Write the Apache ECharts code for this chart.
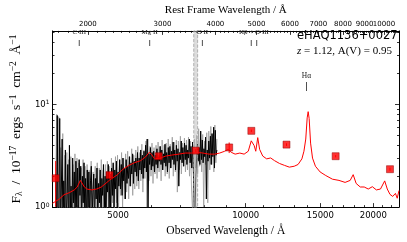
<!DOCTYPE html>
<html><head><meta charset="utf-8">
<script src="https://cdn.jsdelivr.net/npm/echarts@6/dist/echarts.min.js"></script>
<style>html,body{margin:0;padding:0;background:#fff}#c{width:407px;height:242px}</style>
</head><body><div id="c"></div>
<script>
// ---------------- data ----------------
const objectName = 'eHAQ1136+0027';
const redshift = 1.12;
const extinctionAV = 0.95;

// observed spectrum, log-spaced grid between these wavelengths
const specStart = 3560, specEnd = 8550;
// smoothed spectrum (black)
const specFlux = [
  2.1, 0.6, 7.8, 0.5, 1.0, 7.3, 0.6, 1.5, 4.6, 0.5,
  1.8, 0.7, 3.6, 0.8, 1.2, 2.6, 0.5, 4.0, 0.9, 1.6,
  0.6, 3.0, 1.1, 2.2, 0.7, 2.8, 1.0, 2.4, 0.6, 2.9,
  1.3, 2.5, 0.7, 2.0, 1.1, 2.7, 0.8, 1.9, 0.6, 2.3,
  1.0, 2.2, 0.7, 1.8, 2.5, 0.8, 1.4, 2.1, 0.6, 1.9,
  1.2, 2.4, 0.8, 1.7, 1.1, 2.3, 0.7, 1.9, 1.3, 2.6,
  0.9, 2.0, 0.6, 2.2, 1.4, 2.6, 1.0, 2.1, 0.8, 2.4,
  1.3, 2.7, 1.0, 2.3, 1.5, 2.8, 0.9, 2.2, 1.6, 2.9,
  1.5, 2.6, 1.3, 3.0, 1.8, 2.4, 1.2, 2.9, 1.7, 2.5,
  1.9, 3.1, 1.6, 2.7, 2.1, 3.3, 1.7, 2.8, 2.2, 3.0,
  2.0, 3.4, 1.8, 3.0, 2.3, 3.6, 2.1, 3.2, 1.9, 3.5,
  2.4, 4.0, 2.2, 4.6, 0.9, 3.3, 2.6, 3.8, 2.3, 3.4,
  2.5, 3.5, 2.2, 3.2, 2.6, 3.7, 2.4, 3.1, 2.8, 3.9,
  2.6, 3.6, 2.3, 3.3, 2.7, 4.1, 2.5, 3.4, 2.2, 3.8,
  2.7, 3.9, 2.4, 3.5, 2.9, 4.3, 2.6, 3.6, 2.3, 4.0,
  2.8, 3.7, 1.6, 3.4, 2.9, 4.4, 2.7, 3.8, 2.5, 4.2,
  2.9, 4.0, 2.6, 3.6, 3.0, 4.6, 2.7, 3.9, 2.4, 4.3,
  2.2, 1.0, 0.9, 2.0, 3.0, 4.1, 2.8, 3.8, 2.6, 5.5,
  2.9, 4.5, 2.7, 3.7, 3.1, 4.8, 1.2, 3.6, 2.8, 4.4,
  3.0, 4.9, 2.6, 5.2, 3.1, 6.0, 2.4, 5.6, 3.2, 3.6
];
// unsmoothed spectrum (grey)
const specRawFlux = [
  1.4, 8.0, 0.5, 7.6, 0.6, 3.8, 0.5, 5.2, 0.7, 3.2,
  0.5, 3.4, 0.8, 2.9, 0.5, 3.1, 0.9, 2.6, 0.5, 3.3,
  0.7, 3.0, 0.6, 2.7, 0.9, 2.4, 0.5, 2.9, 0.8, 2.5,
  0.6, 2.6, 0.7, 2.3, 0.5, 2.8, 0.8, 2.2, 0.6, 2.5,
  0.7, 2.7, 0.6, 2.4, 0.9, 2.9, 0.5, 2.3, 0.8, 2.6,
  0.6, 2.8, 1.0, 2.5, 0.7, 3.0, 1.1, 2.6, 0.8, 3.1,
  1.1, 3.2, 0.9, 2.8, 1.3, 3.4, 1.0, 3.0, 1.2, 3.3,
  1.4, 3.5, 1.2, 3.1, 1.6, 3.7, 1.3, 3.2, 1.5, 3.6,
  1.6, 3.9, 1.5, 3.4, 1.8, 4.1, 1.4, 3.6, 1.9, 4.4,
  1.0, 4.6, 1.8, 3.9, 2.0, 4.2, 1.7, 3.8, 2.1, 4.0,
  1.9, 4.3, 2.2, 3.9, 1.8, 4.5, 2.3, 4.0, 2.0, 4.2,
  2.1, 4.6, 1.9, 4.1, 2.4, 4.8, 2.0, 4.3, 2.2, 4.5,
  1.4, 4.4, 2.3, 4.9, 2.1, 4.2, 2.5, 4.7, 2.2, 4.5,
  2.3, 4.8, 2.0, 4.4, 1.5, 0.9, 1.8, 4.6, 2.4, 5.0,
  2.1, 5.8, 2.5, 4.6, 2.2, 5.1, 1.0, 4.4, 2.6, 5.3,
  1.1, 5.5, 2.3, 6.1, 2.6, 5.0, 2.2, 6.3, 2.7, 4.6
];

// reddened quasar template (red line)
const modelWave = [3500,3624,3726,3832,3939,4003,4071,4107,4162,4218,4331,4447,4562,4681,4763,4974,5134,5300,5469,5646,5801,5921,5986,6095,6269,6476,6688,6950,7199,7437,7676,7927,8186,8453,8679,8921,9090,9240,9441,9685,9913,10139,10305,10470,10560,10675,10785,10969,11205,11450,11700,12015,12340,12675,13015,13289,13570,13720,13857,13965,14040,14115,14226,14376,14605,14980,15450,16020,16600,17160,17640,17930,18220,18630,19040,19460,19900,20340,20800,21280,21580,21900,22230,22560,22780,23000];
const modelFlux = [1.09,1.19,1.32,1.38,1.47,1.57,1.82,1.78,1.57,1.50,1.47,1.50,1.57,1.71,1.82,2.06,2.34,2.55,2.71,2.83,3.08,3.42,3.28,2.95,2.99,3.14,3.21,3.28,3.36,3.36,3.42,3.36,3.28,3.28,3.36,3.50,3.65,3.42,3.28,3.36,3.28,3.50,4.42,3.97,3.50,4.75,3.65,3.14,2.95,3.01,2.83,2.66,2.55,2.45,2.50,2.60,2.95,3.5,4.6,7.4,8.5,7.3,4.2,3.0,2.5,2.2,2.03,1.87,1.82,1.74,1.82,2.07,1.70,1.57,1.57,1.50,1.58,1.47,1.50,1.80,1.50,1.33,1.27,1.36,1.22,1.45];

// photometry (red squares)
const photWave = [3560, 4770, 6230, 7620, 9140, 10310, 12480, 16300, 21900];
const photFlux = [1.91, 2.05, 3.13, 3.55, 3.81, 5.53, 4.06, 3.13, 2.34];
const photErr  = [0.90, 0.15, 0.10, 0.12, 0.45, 0.15, 0.12, 0.08, 0.08];

// masked telluric band (observed Å)
const bandWave = [7540, 7700];

// emission line markers (rest-frame Å)
const lineNames = ['C III', 'Mg II', 'O II', 'Hβ + O III', 'Hα'];
const lineRest = [[1909], [2799], [3727], [4861, 5007], [6563]];

// axis ticks
const obsTicks = [5000, 10000, 15000, 20000];
const obsMinor = [4000, 6000, 7000, 8000, 9000, 11000, 12000, 13000, 14000, 16000, 17000, 18000, 19000, 21000, 22000];
const restTicks = [2000, 3000, 4000, 5000, 6000, 7000, 8000, 9000, 10000];
const restMinorStep = 100;
const yTicks = [1, 10];
const yMinor = [2, 3, 4, 5, 6, 7, 8, 9, 20, 30, 40, 50];
const xRange = [3500, 23000];
const yRange = [1, 52];

// ---------------- chart ----------------
const LOG = Math.log10;
const X0 = LOG(xRange[0]), X1 = LOG(xRange[1]);
const Y0 = LOG(yRange[0]), Y1 = LOG(yRange[1]);
const zp = 1 + redshift;

const restMinor = [];
for (let r = Math.ceil(xRange[0] / zp / restMinorStep) * restMinorStep; r * zp <= xRange[1]; r += restMinorStep) {
  if (restTicks.indexOf(r) < 0) restMinor.push(r);
}
// split rest-frame labels over two axes so touching labels are not auto-hidden
const restLabelsA = restTicks.filter((r, i) => i % 2 === 0).map(r => LOG(r * zp));
const restLabelsB = restTicks.filter((r, i) => i % 2 === 1).map(r => LOG(r * zp));

function gridSpec(arr) {
  const n = arr.length;
  return arr.map((f, i) => [LOG(specStart * Math.pow(specEnd / specStart, i / (n - 1))), LOG(f)]);
}
const specData = gridSpec(specFlux);
const specRawData = gridSpec(specRawFlux);
const modelData = modelWave.map((w, i) => [LOG(w), LOG(modelFlux[i])]);
const photData = photWave.map((w, i) => [LOG(w), LOG(photFlux[i])]);
const errData = photWave.map((w, i) => [LOG(w), LOG(Math.max(photFlux[i] - photErr[i], 1.0)), LOG(photFlux[i] + photErr[i])]);

const SERIF = '"Liberation Serif", "DejaVu Serif", serif';
const SANS = '"DejaVu Sans", sans-serif';

function tickAxis(kind, pos, values, len, extra) {
  const base = {
    type: 'value', position: pos, gridIndex: 0,
    min: kind === 'x' ? X0 : Y0, max: kind === 'x' ? X1 : Y1,
    splitLine: { show: false },
    axisLine: { show: false, onZero: false },
    axisLabel: { show: false },
    axisTick: { show: true, inside: true, length: len, customValues: values, lineStyle: { color: '#000', width: 0.8 } }
  };
  return Object.assign(base, extra || {});
}
const restLabel = vals => ({ show: true, customValues: vals,
  formatter: v => String(Math.round(Math.pow(10, v) / zp / 100) * 100),
  interval: 0, hideOverlap: false, showMinLabel: true, showMaxLabel: true,
  margin: 3, fontSize: 7, fontFamily: SANS, color: '#000' });

const xAxes = [
  tickAxis('x', 'bottom', obsTicks.map(LOG), 4, {
    axisLine: { show: true, onZero: false, lineStyle: { color: '#000', width: 1 } },
    axisLabel: { show: true, customValues: obsTicks.map(LOG), formatter: v => String(Math.round(Math.pow(10, v))),
      interval: 0, hideOverlap: false, showMinLabel: true, showMaxLabel: true,
      margin: 4, fontSize: 8.5, fontFamily: SANS, color: '#000' },
    name: 'Observed Wavelength / Å', nameLocation: 'middle', nameGap: 14,
    nameTextStyle: { fontFamily: SERIF, fontSize: 11.5, color: '#000' }
  }),
  tickAxis('x', 'bottom', obsMinor.map(LOG), 2),
  tickAxis('x', 'top', restTicks.map(r => LOG(r * zp)), 4, {
    axisLine: { show: true, onZero: false, lineStyle: { color: '#000', width: 1 } },
    axisLabel: restLabel(restLabelsA),
    name: 'Rest Frame Wavelength / Å', nameLocation: 'middle', nameGap: 13,
    nameTextStyle: { fontFamily: SERIF, fontSize: 11, color: '#000' }
  }),
  tickAxis('x', 'top', restMinor.map(r => LOG(r * zp)), 2, { axisLabel: restLabel(restLabelsB) })
];

const yAxes = [
  tickAxis('y', 'left', yTicks.map(LOG), 4, {
    axisLine: { show: true, onZero: false, lineStyle: { color: '#000', width: 1 } },
    axisLabel: { show: true, customValues: yTicks.map(LOG), formatter: v => '10{s|' + Math.round(v) + '}',
      margin: 3, fontSize: 8.5, fontFamily: SANS, color: '#000',
      rich: { s: { fontSize: 6, fontFamily: SANS, verticalAlign: 'top', color: '#000' } } },
    name: 'F{b|λ}  /  10{s|−17}  ergs  s{s|−1}  cm{s|−2}  Å{s|−1}', nameLocation: 'middle', nameRotate: 90, nameGap: 25,
    nameTextStyle: { fontFamily: SERIF, fontSize: 13.5, color: '#000', lineHeight: 16,
      rich: { s: { fontFamily: SERIF, fontSize: 9.5, verticalAlign: 'top', color: '#000' },
              b: { fontFamily: SERIF, fontSize: 9.5, verticalAlign: 'bottom', color: '#000' } } }
  }),
  tickAxis('y', 'left', yMinor.map(LOG), 2),
  tickAxis('y', 'right', yTicks.map(LOG), 4, {
    axisLine: { show: true, onZero: false, lineStyle: { color: '#000', width: 1 } }
  }),
  tickAxis('y', 'right', yMinor.map(LOG), 2)
];

const chart = echarts.init(document.getElementById('c'), null, { renderer: 'canvas' });
chart.setOption({
  animation: false,
  backgroundColor: '#fff',
  grid: { left: 45, right: 8, top: 24, bottom: 30, containLabel: false },
  xAxis: xAxes,
  yAxis: yAxes,
  graphic: [
    { type: 'text', left: 297, top: 30, style: { text: objectName, font: '11.5px "DejaVu Sans"', fill: '#000' } },
    { type: 'text', left: 297, top: 46, style: {
        text: '{i|z} = ' + redshift.toFixed(2) + ', A(V) = ' + extinctionAV.toFixed(2),
        font: '11px ' + SERIF, fill: '#000',
        rich: { i: { font: 'italic 11px ' + SERIF, fill: '#000' } } } }
  ],
  series: [
    { type: 'line', data: specRawData, showSymbol: false, symbol: 'none', clip: true,
      lineStyle: { color: '#9a9a9a', width: 0.8 }, z: 1 },
    { type: 'line', data: specData, showSymbol: false, symbol: 'none', clip: true,
      lineStyle: { color: '#000', width: 1 }, z: 2 },
    { type: 'line', data: modelData, showSymbol: false, symbol: 'none', clip: true,
      lineStyle: { color: '#ff0000', width: 1 }, z: 3,
      markArea: { silent: true, z: 4,
        itemStyle: { color: 'rgba(185,185,185,0.5)', borderColor: '#a0a0a0', borderWidth: 0.8, borderType: 'dashed' },
        data: [[{ xAxis: LOG(bandWave[0]) }, { xAxis: LOG(bandWave[1]) }]] } },
    { type: 'custom', data: errData, z: 5, clip: true,
      renderItem: (params, api) => {
        const a = api.coord([api.value(0), api.value(1)]);
        const b = api.coord([api.value(0), api.value(2)]);
        return { type: 'line', shape: { x1: a[0], y1: a[1], x2: b[0], y2: b[1] },
                 style: { stroke: '#ff0000', lineWidth: 1 } };
      } },
    { type: 'scatter', data: photData, symbol: 'rect', symbolSize: 7, z: 6,
      itemStyle: { color: '#ff0000', borderColor: '#8b0000', borderWidth: 0.6 } },
    { type: 'custom', data: lineNames.map((n, i) => [i]), z: 7, silent: true,
      renderItem: (params, api) => {
        const i = api.value(0);
        const isHa = lineNames[i] === 'Hα';
        const yTop = isHa ? 82 : 40, yBot = isHa ? 91 : 46, yLab = isHa ? 76 : 32;
        const xs = lineRest[i].map(r => api.coord([LOG(r * zp), Y0])[0]);
        const children = xs.map(x => ({ type: 'line', shape: { x1: x, y1: yTop, x2: x, y2: yBot },
                                         style: { stroke: '#222', lineWidth: 0.8 } }));
        const xc = (xs[0] + xs[xs.length - 1]) / 2;
        children.push({ type: 'text', x: xc, y: yLab, style: { text: lineNames[i], x: 0, y: 0,
          align: 'center', verticalAlign: 'middle',
          font: (isHa ? '7.5px ' : '7px ') + SERIF, fill: '#222' } });
        return { type: 'group', children: children };
      } }
  ]
});
</script></body></html>
